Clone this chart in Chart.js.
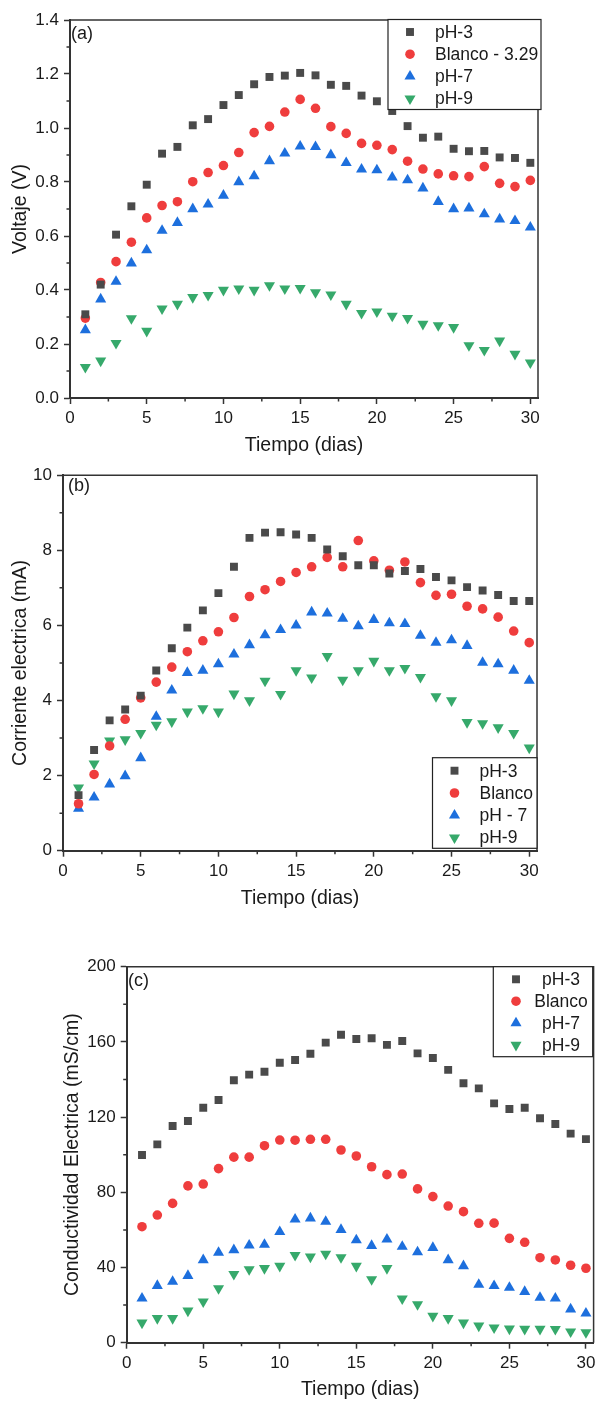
<!DOCTYPE html>
<html>
<head>
<meta charset="utf-8">
<script src="https://cdn.jsdelivr.net/npm/chart.js@4.4.0/dist/chart.umd.min.js"></script>
<style>
    body { margin: 0; background: #fff; }
    #painel { position: relative; width: 600px; height: 1401px; }
    canvas { position: absolute; left: 0; }
</style>
</head>
<body>
<div id="painel">
    <canvas id="graficoA" width="600" height="460" style="top:0px"></canvas>
    <canvas id="graficoB" width="600" height="460" style="top:460px"></canvas>
    <canvas id="graficoC" width="600" height="481" style="top:920px"></canvas>
</div>
<script>
var dias = [1, 2, 3, 4, 5, 6, 7, 8, 9, 10, 11, 12, 13, 14, 15, 16, 17, 18, 19, 20, 21, 22, 23, 24, 25, 26, 27, 28, 29, 30];

var voltajePH3 = [0.31, 0.42, 0.605, 0.71, 0.79, 0.905, 0.93, 1.01, 1.033, 1.085, 1.122, 1.162, 1.189, 1.194, 1.204, 1.195, 1.16, 1.156, 1.12, 1.099, 1.063, 1.007, 0.964, 0.968, 0.923, 0.914, 0.915, 0.891, 0.889, 0.871];
var voltajeBlanco = [0.296, 0.428, 0.505, 0.577, 0.667, 0.713, 0.727, 0.801, 0.835, 0.861, 0.909, 0.983, 1.006, 1.059, 1.106, 1.073, 1.005, 0.98, 0.943, 0.936, 0.92, 0.877, 0.848, 0.83, 0.823, 0.82, 0.857, 0.795, 0.783, 0.806];
var voltajePH7 = [0.252, 0.366, 0.431, 0.499, 0.548, 0.62, 0.649, 0.70, 0.717, 0.75, 0.80, 0.822, 0.878, 0.906, 0.932, 0.93, 0.9, 0.871, 0.847, 0.844, 0.817, 0.807, 0.777, 0.727, 0.70, 0.703, 0.681, 0.662, 0.656, 0.632];
var voltajePH9 = [0.114, 0.138, 0.203, 0.295, 0.248, 0.331, 0.348, 0.373, 0.381, 0.40, 0.405, 0.40, 0.417, 0.405, 0.407, 0.391, 0.383, 0.348, 0.314, 0.32, 0.304, 0.296, 0.274, 0.269, 0.262, 0.195, 0.177, 0.212, 0.163, 0.131];

var correintePH3 = [1.48, 2.68, 3.47, 3.76, 4.13, 4.8, 5.39, 5.94, 6.40, 6.86, 7.56, 8.33, 8.47, 8.48, 8.42, 8.33, 8.02, 7.84, 7.60, 7.60, 7.38, 7.45, 7.50, 7.29, 7.20, 7.02, 6.93, 6.81, 6.65, 6.65];
var correinteBlanco = [1.25, 2.03, 2.79, 3.5, 4.07, 4.49, 4.89, 5.30, 5.59, 5.83, 6.21, 6.77, 6.95, 7.17, 7.41, 7.56, 7.81, 7.56, 8.26, 7.72, 7.47, 7.69, 7.14, 6.80, 6.83, 6.51, 6.44, 6.22, 5.85, 5.54];
var correintePH7 = [1.12, 1.42, 1.77, 1.99, 2.47, 3.57, 4.27, 4.74, 4.80, 4.97, 5.23, 5.48, 5.74, 5.88, 6.0, 6.35, 6.32, 6.18, 5.98, 6.15, 6.06, 6.04, 5.73, 5.54, 5.61, 5.46, 5.01, 4.97, 4.80, 4.53];
var correintePH9 = [1.68, 2.32, 2.93, 2.96, 3.13, 3.35, 3.44, 3.70, 3.79, 3.70, 4.18, 4.0, 4.52, 4.17, 4.80, 4.61, 5.18, 4.55, 4.80, 5.05, 4.80, 4.86, 4.62, 4.11, 4.0, 3.42, 3.39, 3.28, 3.13, 2.74];

var conductividadPH3 = [99.8, 105.5, 115.3, 117.9, 125.0, 129.1, 139.6, 142.6, 144.1, 148.9, 150.4, 153.7, 159.6, 163.8, 161.5, 161.9, 158.4, 160.5, 153.9, 151.4, 145.1, 138.0, 135.3, 127.3, 124.3, 125.0, 119.4, 116.3, 111.2, 108.3];
var conductividadBlanco = [61.7, 67.9, 74.1, 83.4, 84.4, 92.6, 98.7, 98.7, 104.8, 107.8, 107.7, 108.2, 108.2, 102.5, 99.3, 93.6, 89.4, 89.7, 81.8, 77.7, 72.7, 69.7, 63.5, 63.6, 55.5, 53.4, 45.2, 44.0, 41.2, 39.6];
var conductividadPH7 = [23.6, 30.3, 32.5, 35.6, 44.0, 47.9, 49.3, 51.8, 52.2, 59.0, 65.6, 66.2, 64.4, 60.1, 54.6, 51.6, 55.0, 51.1, 48.2, 50.5, 44.0, 40.8, 30.9, 30.2, 29.3, 27.1, 24.0, 23.6, 17.8, 15.6];
var conductividadPH9 = [10.6, 13.0, 13.0, 17.0, 21.8, 28.9, 36.5, 39.0, 39.6, 40.8, 46.6, 45.7, 47.2, 45.4, 40.8, 33.7, 39.6, 23.4, 20.4, 14.2, 13.0, 10.6, 9.0, 8.0, 7.4, 7.3, 7.3, 7.2, 5.9, 5.5];

var rotulosA = ['pH-3', 'Blanco - 3.29', 'pH-7', 'pH-9'];
var rotulosB = ['pH-3', 'Blanco', 'pH - 7', 'pH-9'];
var rotulosC = ['pH-3', 'Blanco', 'pH-7', 'pH-9'];

var ticksX = [0, 5, 10, 15, 20, 25, 30];
var menoresX = [2.5, 7.5, 12.5, 17.5, 22.5, 27.5];
var ticksVoltaje = [0, 0.2, 0.4, 0.6, 0.8, 1.0, 1.2, 1.4];
var menoresVoltaje = [0.1, 0.3, 0.5, 0.7, 0.9, 1.1, 1.3];
var ticksCorriente = [0, 2, 4, 6, 8, 10];
var menoresCorriente = [1, 3, 5, 7, 9];
var ticksConductividad = [0, 40, 80, 120, 160, 200];
var menoresConductividad = [20, 60, 100, 140, 180];

var FONTE = "'Liberation Sans', Arial, sans-serif";
var estilos = [
    { cor: '#4a4a4a', forma: 'rect', raio: 5.6, giro: 0 },
    { cor: '#ef3d3d', forma: 'circle', raio: 4.8, giro: 0 },
    { cor: '#1d6fdd', forma: 'triangle', raio: 6.4, giro: 0 },
    { cor: '#36a96b', forma: 'triangle', raio: 6.4, giro: 180 }
];

Chart.defaults.font.family = FONTE;
Chart.defaults.color = '#1a1a1a';

function serie(valores) {
    return dias.map(function (d, i) { return { x: d, y: valores[i] }; });
}

function desenharMarcador(ctx, estilo, x, y) {
    var r = estilo.raio;
    ctx.fillStyle = estilo.cor;
    ctx.beginPath();
    if (estilo.forma === 'rect') {
        var s = r * Math.SQRT1_2;
        ctx.rect(x - s, y - s, 2 * s, 2 * s);
    } else if (estilo.forma === 'circle') {
        ctx.arc(x, y, r, 0, Math.PI * 2);
    } else {
        var sinal = estilo.giro === 180 ? -1 : 1;
        var w = r * Math.sqrt(3) / 2;
        ctx.moveTo(x, y - sinal * r);
        ctx.lineTo(x + w, y + sinal * r / 2);
        ctx.lineTo(x - w, y + sinal * r / 2);
        ctx.closePath();
    }
    ctx.fill();
}

var pluginMoldura = {
    id: 'moldura',
    afterDraw: function (chart, args, op) {
        var ctx = chart.ctx;
        var area = chart.chartArea;
        var sx = chart.scales.x, sy = chart.scales.y;
        ctx.save();

        // moldura superior e direita
        ctx.strokeStyle = '#333';
        ctx.lineWidth = 1.5;
        ctx.beginPath();
        ctx.moveTo(area.left, area.top);
        ctx.lineTo(area.right, area.top);
        ctx.lineTo(area.right, area.bottom);
        ctx.stroke();

        // ticks menores
        ctx.beginPath();
        op.menoresX.forEach(function (v) {
            var px = sx.getPixelForValue(v);
            ctx.moveTo(px, area.bottom);
            ctx.lineTo(px, area.bottom + 3.5);
        });
        op.menoresY.forEach(function (v) {
            var py = sy.getPixelForValue(v);
            ctx.moveTo(area.left, py);
            ctx.lineTo(area.left - 3.5, py);
        });
        ctx.stroke();

        // rotulo do painel
        ctx.fillStyle = '#1a1a1a';
        ctx.font = '18px ' + FONTE;
        ctx.textAlign = 'left';
        ctx.textBaseline = 'middle';
        ctx.fillText(op.rotulo, op.rotuloX, op.rotuloY);

        // legenda
        var lg = op.legenda;
        ctx.fillStyle = '#fff';
        ctx.fillRect(lg.x, lg.y, lg.w, lg.h);
        ctx.strokeStyle = '#222';
        ctx.lineWidth = 1.2;
        ctx.strokeRect(lg.x, lg.y, lg.w, lg.h);
        ctx.font = '17.5px ' + FONTE;
        ctx.textAlign = lg.alinhar;
        chart.data.datasets.forEach(function (ds, i) {
            var yy = lg.linha0 + i * lg.passo;
            desenharMarcador(ctx, estilos[i], lg.marcadorX, yy);
            ctx.fillStyle = '#1a1a1a';
            ctx.fillText(ds.label, lg.textoX, yy + 1);
        });
        ctx.restore();
    }
};

function criarGrafico(cfg) {
    var elemento = document.getElementById(cfg.id);

    if (!elemento)
        return;

    var contexto = elemento.getContext('2d');

    var conjuntos = cfg.series.map(function (valores, i) {
        var e = estilos[i];
        return {
            label: cfg.rotulos[i],
            data: serie(valores),
            pointStyle: e.forma,
            pointRadius: e.raio,
            pointRotation: e.giro,
            backgroundColor: e.cor,
            borderColor: e.cor,
            borderWidth: 0,
            showLine: false
        };
    });

    new Chart(contexto, {
        type: 'scatter',
        data: { datasets: conjuntos },
        options: {
            responsive: false,
            animation: false,
            events: [],
            layout: { padding: cfg.padding },
            scales: {
                x: {
                    type: 'linear',
                    min: 0,
                    max: 30.5,
                    afterBuildTicks: function (s) { s.ticks = ticksX.map(function (v) { return { value: v }; }); },
                    afterFit: function (s) { s.height = cfg.alturaX; },
                    ticks: { font: { size: 17 }, padding: cfg.padTickX, maxRotation: 0, color: '#1a1a1a' },
                    grid: { drawOnChartArea: false, drawTicks: true, tickLength: 6, tickColor: '#333', tickWidth: 1.5 },
                    border: { color: '#333', width: 2 },
                    title: { display: true, text: 'Tiempo (dias)', font: { size: 19.5 }, color: '#1a1a1a', padding: { top: 0, bottom: cfg.padTituloX } }
                },
                y: {
                    type: 'linear',
                    min: cfg.ticksY[0],
                    max: cfg.ticksY[cfg.ticksY.length - 1],
                    afterBuildTicks: function (s) { s.ticks = cfg.ticksY.map(function (v) { return { value: v }; }); },
                    afterFit: function (s) { s.width = cfg.larguraY; },
                    ticks: {
                        font: { size: 17 },
                        padding: 5,
                        color: '#1a1a1a',
                        callback: function (v) { return cfg.decimais ? v.toFixed(cfg.decimais) : String(v); }
                    },
                    grid: { drawOnChartArea: false, drawTicks: true, tickLength: 6, tickColor: '#333', tickWidth: 1.5 },
                    border: { color: '#333', width: 2 },
                    title: { display: true, text: cfg.tituloY, font: { size: 19.5 }, color: '#1a1a1a', padding: { top: cfg.padTituloY, bottom: 0 } }
                }
            },
            plugins: {
                legend: { display: false },
                tooltip: { enabled: false },
                moldura: {
                    menoresX: menoresX,
                    menoresY: cfg.menoresY,
                    rotulo: cfg.rotulo,
                    rotuloX: cfg.rotuloX,
                    rotuloY: cfg.rotuloY,
                    legenda: cfg.legenda
                }
            }
        },
        plugins: [pluginMoldura]
    });
}

criarGrafico({
    id: 'graficoA',
    series: [voltajePH3, voltajeBlanco, voltajePH7, voltajePH9],
    rotulos: rotulosA,
    ticksY: ticksVoltaje,
    menoresY: menoresVoltaje,
    decimais: 1,
    tituloY: 'Voltaje (V)',
    padding: { top: 20, right: 62, left: 0, bottom: 0 },
    larguraY: 70,
    alturaX: 62,
    padTickX: 4,
    padTituloX: 3,
    padTituloY: 9,
    rotulo: '(a)',
    rotuloX: 71,
    rotuloY: 34,
    legenda: { x: 388, y: 19.5, w: 153, h: 90, linha0: 32, passo: 22.2, marcadorX: 410, textoX: 435, alinhar: 'left' }
});

criarGrafico({
    id: 'graficoB',
    series: [correintePH3, correinteBlanco, correintePH7, correintePH9],
    rotulos: rotulosB,
    ticksY: ticksCorriente,
    menoresY: menoresCorriente,
    decimais: 0,
    tituloY: 'Corriente electrica (mA)',
    padding: { top: 11, right: 63, left: 0, bottom: 0 },
    larguraY: 63,
    alturaX: 69.3,
    padTickX: 4,
    padTituloX: 9.6,
    padTituloY: 9,
    rotulo: '(b)',
    rotuloX: 68,
    rotuloY: 26,
    legenda: { x: 432.5, y: 297.7, w: 104.5, h: 90.6, linha0: 310.7, passo: 22.3, marcadorX: 454.5, textoX: 479.5, alinhar: 'left' }
});

criarGrafico({
    id: 'graficoC',
    series: [conductividadPH3, conductividadBlanco, conductividadPH7, conductividadPH9],
    rotulos: rotulosC,
    ticksY: ticksConductividad,
    menoresY: menoresConductividad,
    decimais: 0,
    tituloY: 'Conductividad Electrica (mS/cm)',
    padding: { top: 46.7, right: 3.3, left: 0, bottom: 0 },
    larguraY: 126.7,
    alturaX: 58.3,
    padTickX: 4.5,
    padTituloX: 0,
    padTituloY: 61,
    rotulo: '(c)',
    rotuloX: 128,
    rotuloY: 61,
    legenda: { x: 493.3, y: 46.7, w: 99.4, h: 90, linha0: 59.3, passo: 21.9, marcadorX: 516, textoX: 561, alinhar: 'center' }
});
</script>
</body>
</html>
